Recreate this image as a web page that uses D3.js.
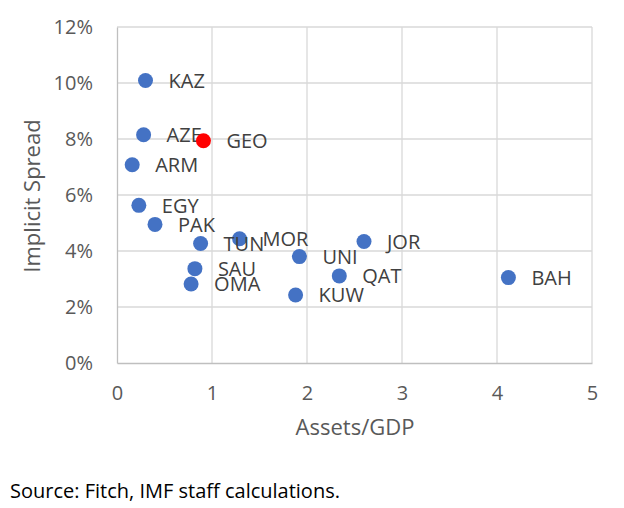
<!DOCTYPE html>
<html>
<head>
<meta charset="utf-8">
<script src="https://cdn.jsdelivr.net/npm/d3@7"></script>
<style>
  body { margin: 0; background: #fff; }
  text { font-family: "Open Sans", sans-serif; }
</style>
</head>
<body>
<svg id="chart" width="624" height="508"></svg>
<script>
// countries in the blue series
var countries = ["KAZ", "AZE", "ARM", "EGY", "PAK", "TUN", "MOR", "UNI", "JOR", "SAU", "OMA", "QAT", "KUW", "BAH"];
var assetsGdp = [0.30, 0.28, 0.16, 0.23, 0.40, 0.88, 1.29, 1.92, 2.60, 0.82, 0.78, 2.34, 1.88, 4.12];
var spread = [0.1009, 0.0815, 0.0708, 0.0563, 0.0495, 0.0427, 0.0444, 0.0380, 0.0434, 0.0337, 0.0282, 0.0311, 0.0243, 0.0305];

// highlighted country
var hiCountry = ["GEO"];
var hiAssets = [0.91];
var hiSpread = [0.0794];

var xTicks = [0, 1, 2, 3, 4, 5];
var yTicks = [0, 0.02, 0.04, 0.06, 0.08, 0.10, 0.12];

var svg = d3.select("#chart"),
    margin = {top: 27, right: 32, bottom: 145, left: 117},
    width = 624 - margin.left - margin.right,
    height = 508 - margin.top - margin.bottom,
    g = svg.append("g").attr("transform", "translate(" + margin.left + "," + margin.top + ")");

var x = d3.scaleLinear().domain([0, 5]).range([0, width]);
var y = d3.scaleLinear().domain([0, 0.12]).range([height, 0]);

// gridlines
g.append("g").selectAll("line.h")
    .data(yTicks.slice(1))
  .enter().append("line")
    .attr("x1", 0).attr("x2", width)
    .attr("y1", function(d) { return y(d); })
    .attr("y2", function(d) { return y(d); })
    .attr("stroke", "#d9d9d9").attr("stroke-width", 1.3);

g.append("g").selectAll("line.v")
    .data(xTicks.slice(1))
  .enter().append("line")
    .attr("y1", 0).attr("y2", height)
    .attr("x1", function(d) { return x(d); })
    .attr("x2", function(d) { return x(d); })
    .attr("stroke", "#d9d9d9").attr("stroke-width", 1.3);

var xAxis = g.append("g")
    .attr("transform", "translate(0," + height + ")")
    .call(d3.axisBottom(x).tickValues(xTicks).tickSize(0).tickPadding(23).tickFormat(d3.format("d")));

var yAxis = g.append("g")
    .call(d3.axisLeft(y).tickValues(yTicks).tickSize(0).tickPadding(24).tickFormat(d3.format(".0%")));

[xAxis, yAxis].forEach(function(a) {
  a.select(".domain").attr("stroke", "#bfbfbf").attr("stroke-width", 1.3);
  a.selectAll("text")
      .attr("fill", "#595959")
      .style("font-size", "20px")
      .style("font-family", "'Open Sans', sans-serif");
});

// axis titles
svg.append("text")
    .attr("x", 355).attr("y", 435)
    .attr("text-anchor", "middle")
    .attr("fill", "#595959")
    .style("font-size", "22px")
    .text("Assets/GDP");

svg.append("text")
    .attr("transform", "translate(40,196) rotate(-90)")
    .attr("text-anchor", "middle")
    .attr("fill", "#595959")
    .style("font-size", "22px")
    .text("Implicit Spread");

var pts = countries.map(function(c, i) { return {name: c, x: assetsGdp[i], y: spread[i]}; });
var hi = hiCountry.map(function(c, i) { return {name: c, x: hiAssets[i], y: hiSpread[i]}; });

g.selectAll("circle.blue")
    .data(pts)
  .enter().append("circle")
    .attr("cx", function(d) { return x(d.x); })
    .attr("cy", function(d) { return y(d.y); })
    .attr("r", 7.5)
    .attr("fill", "#4472c4");

g.selectAll("text.lbl")
    .data(pts.concat(hi))
  .enter().append("text")
    .attr("x", function(d) { return x(d.x) + 23; })
    .attr("y", function(d) { return y(d.y); })
    .attr("dy", "0.36em")
    .attr("fill", "#404040")
    .style("font-size", "20px")
    .text(function(d) { return d.name; });

g.selectAll("circle.red")
    .data(hi)
  .enter().append("circle")
    .attr("cx", function(d) { return x(d.x); })
    .attr("cy", function(d) { return y(d.y); })
    .attr("r", 7.5)
    .attr("fill", "#ff0000");

svg.append("text")
    .attr("x", 10).attr("y", 498)
    .attr("fill", "#000")
    .style("font-size", "20px")
    .text("Source: Fitch, IMF staff calculations.");
</script>
</body>
</html>
